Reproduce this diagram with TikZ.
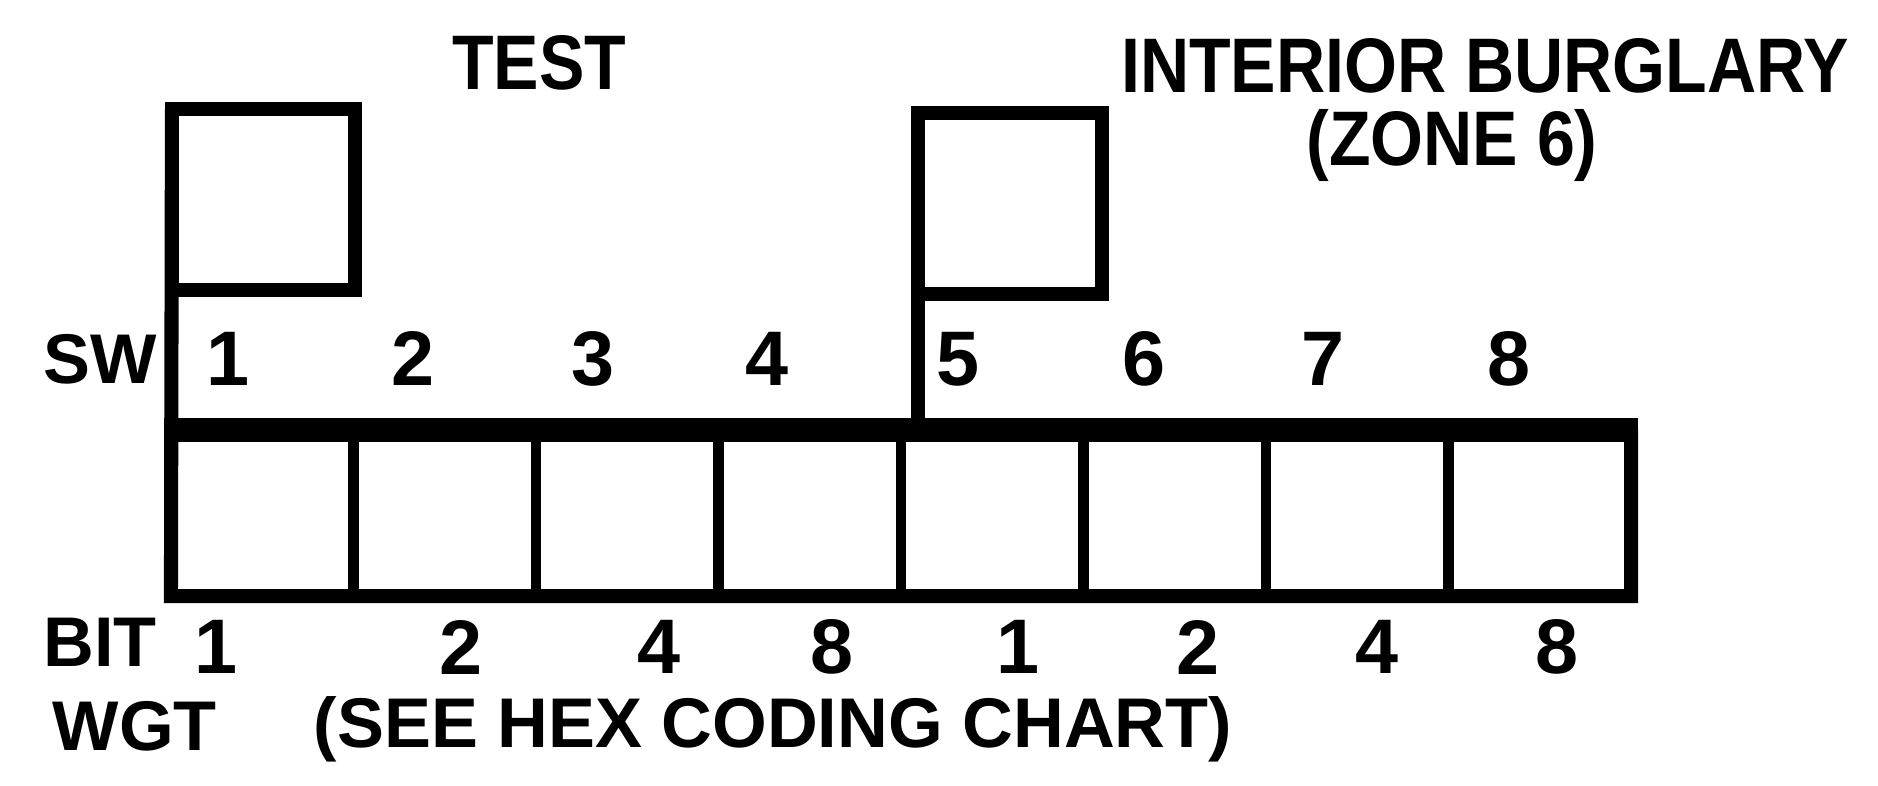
\documentclass[tikz,border=0pt]{standalone}
\usepackage{fontspec}
\setmainfont{Liberation Sans}
\newfontfamily\narrowfont{Liberation Sans}[FakeStretch=0.88]

\begin{document}
\begin{tikzpicture}[
    x=0.01cm, y=-0.01cm,
    txt/.style={font=\fontsize{20}{24}\selectfont\bfseries, inner sep=0pt},
    digit/.style={font=\fontsize{22}{26}\selectfont\bfseries, inner sep=0pt},
    title/.style={font=\narrowfont\fontsize{22}{26}\selectfont\bfseries, inner sep=0pt},
    cell/.style={draw, line width=3pt, minimum width=1.825cm, minimum height=1.66cm, inner sep=0pt, outer sep=0pt},
    lever/.style={draw, line width=4pt, minimum width=1.83cm, minimum height=1.8cm, inner sep=0pt, outer sep=0pt},
    frame/.style={line width=4pt},
]
    \useasboundingbox (0,0) rectangle (1878,786);

    % switch cells
    \foreach \i in {1,...,8} {
        \node[cell] (c\i) at ({171+182.5*(\i-0.5)}, 513) {};
    }

    % levers set to on
    \node[lever] (lever1) at (263.5,199.5) {};
    \node[lever] (lever5) at (1010,203.5) {};

    \draw[frame] (lever1.north west) -- (c1.south west) -- (c8.south east) -- (c8.north east);
    \draw[line width=7pt] ([xshift=-2pt]c1.north west) -- ([xshift=2pt]c8.north east);
    \draw[frame] (lever5.south west) -- (lever5.south west |- c5.north);

    \node[title] (test) at (539,63) {TEST};
    \node[title] (zone) at (1485,66) {INTERIOR BURGLARY};
    \node[title] (zonenum) at (1452,146) {(ZONE 6)};

    \node[txt] (swlbl) at (100,359) {SW};
    \foreach \i/\x in {1/228, 2/413, 3/593, 4/767, 5/958, 6/1144, 7/1323, 8/1509} {
        \node[digit] (sw\i) at (\x,359) {\i};
    }

    \node[txt] (bitlbl) at (100,642) {BIT};
    \foreach \i/\x/\w in {1/216/1, 2/461/2, 3/659/4, 4/832/8, 5/1018/1, 6/1198/2, 7/1377/4, 8/1557/8} {
        \node[digit] (bit\i) at (\x,647) {\w};
    }

    \node[txt, anchor=west] (wgtlbl) at (52,726) {WGT};
    \node[txt] (hexnote) at (773,729) {(SEE HEX CODING CHART)};
\end{tikzpicture}
\end{document}
